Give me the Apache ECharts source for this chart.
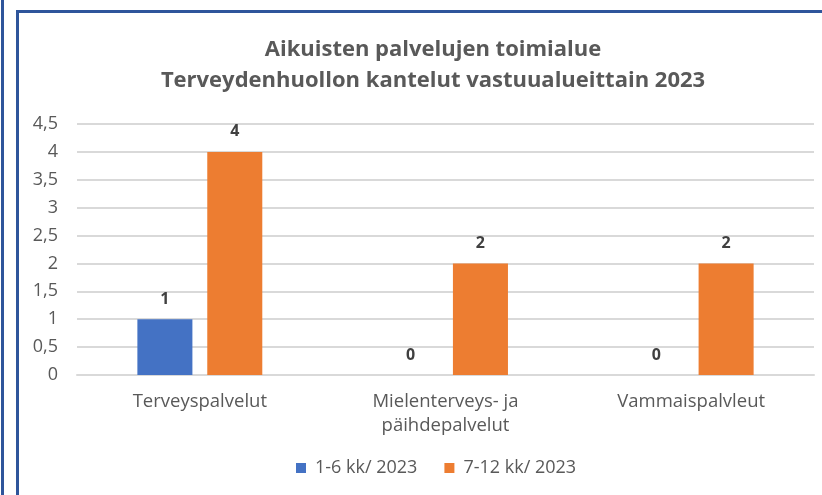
<!DOCTYPE html>
<html><head><meta charset="utf-8">
<script src="https://cdn.jsdelivr.net/npm/echarts@6/dist/echarts.min.js"></script>
<style>html,body{margin:0;padding:0;background:#fff;}#c{width:822px;height:495px;}</style>
</head><body><div id="c"></div>
<script>
const titleLines = ['Aikuisten palvelujen toimialue', 'Terveydenhuollon kantelut vastuualueittain 2023'];
const categories = ['Terveyspalvelut', 'Mielenterveys- ja\npäihdepalvelut', 'Vammaispalvleut'];
const seriesNames = ['1-6 kk/ 2023', '7-12 kk/ 2023'];
const values1 = [1, 0, 0];
const values2 = [4, 2, 2];
const colors = ['#4472C4', '#ED7D31'];
const yMin = 0, yMax = 4.5, yStep = 0.5;

const FONT = 'Open Sans';
const chart = echarts.init(document.getElementById('c'), null, {renderer: 'canvas'});
const label = {show: true, position: 'top', distance: 12, color: '#404040', fontWeight: 'bold', fontSize: 16, fontFamily: FONT};
chart.setOption({
  animation: false,
  textStyle: {fontFamily: FONT},
  title: {
    text: titleLines.join('\n'), left: 428, top: 29, textAlign: 'center',
    textStyle: {color: '#595959', fontSize: 22, fontWeight: 'bold', lineHeight: 31, fontFamily: FONT}
  },
  graphic: [
    {type: 'rect', shape: {x: 1, y: -5, width: 3, height: 510}, style: {fill: '#2F559B'}},
    {type: 'rect', shape: {x: 16, y: 10, width: 3, height: 500}, style: {fill: '#2F559B'}},
    {type: 'rect', shape: {x: 16, y: 10, width: 820, height: 3}, style: {fill: '#2F559B'}}
  ],
  legend: {
    bottom: 13, left: 291, icon: 'rect', itemWidth: 10, itemHeight: 10, itemGap: 27,
    textStyle: {color: '#595959', fontSize: 18, fontFamily: FONT, padding: [0, 0, 0, 4]},
    data: seriesNames
  },
  grid: {left: 77, right: 8, top: 124, bottom: 120, containLabel: false},
  xAxis: {
    type: 'category', data: categories,
    axisLine: {lineStyle: {color: '#D9D9D9', width: 2}},
    axisTick: {show: false},
    axisLabel: {color: '#595959', fontSize: 18.5, margin: 15, lineHeight: 24, fontFamily: FONT}
  },
  yAxis: {
    type: 'value', min: yMin, max: yMax, interval: yStep,
    axisLine: {show: false}, axisTick: {show: false},
    splitLine: {lineStyle: {color: '#D9D9D9', width: 2}},
    axisLabel: {color: '#595959', fontSize: 18, margin: 19, fontFamily: FONT,
      formatter: v => String(v).replace('.', ',')}
  },
  series: [
    {name: seriesNames[0], type: 'bar', data: values1, barWidth: '22.4%', barGap: '27%',
     itemStyle: {color: colors[0]}, label: label},
    {name: seriesNames[1], type: 'bar', data: values2, barWidth: '22.4%', barGap: '27%',
     itemStyle: {color: colors[1]}, label: label}
  ]
});
</script></body></html>
